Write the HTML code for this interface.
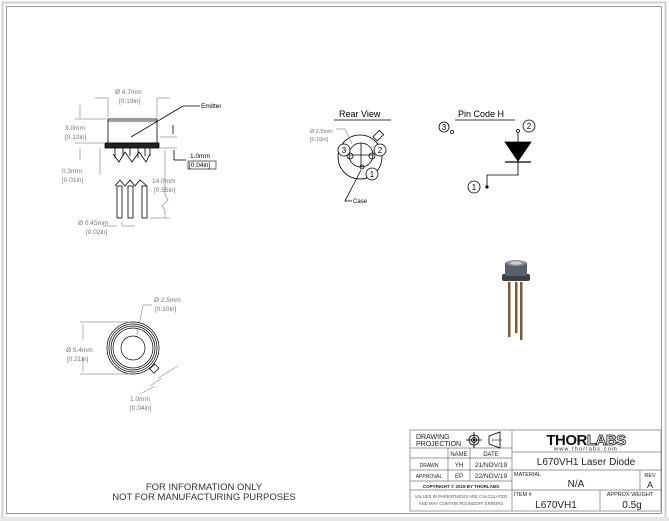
<!DOCTYPE html>
<html><head><meta charset="utf-8"><style>
html,body{margin:0;padding:0;background:#fff;}
svg{display:block;font-family:"Liberation Sans",sans-serif;}
</style></head><body>
<svg width="669" height="521" viewBox="0 0 669 521" xmlns="http://www.w3.org/2000/svg">
<rect x="0" y="0" width="669" height="521" fill="#fff"/>
<rect x="2.5" y="2.5" width="663" height="516" fill="none" stroke="#cfcfcf" stroke-width="2"/>
<rect x="6.5" y="6.5" width="655" height="507" fill="none" stroke="#9a9a9a" stroke-width="1"/>
<rect x="0" y="517" width="669" height="4" fill="#e6e6e6"/>

<g stroke="#000" fill="none" stroke-width="0.8">
<rect x="108" y="119" width="49" height="24"/>
<line x1="108" y1="121" x2="157" y2="121"/>
<rect x="105" y="143" width="54" height="5" fill="#222"/>
<line x1="108" y1="98" x2="108" y2="117" stroke="#999"/>
<line x1="157" y1="98" x2="157" y2="117" stroke="#999"/>
<line x1="95" y1="98" x2="108" y2="98" stroke="#999"/><line x1="157" y1="98" x2="170" y2="98" stroke="#999"/>
<line x1="75" y1="119" x2="106" y2="119" stroke="#999"/>
<line x1="75" y1="143" x2="104" y2="143" stroke="#999"/>
<line x1="80" y1="105" x2="80" y2="118" stroke="#999"/>
<line x1="80" y1="148" x2="80" y2="160" stroke="#999"/>
<line x1="100" y1="148" x2="100" y2="175" stroke="#999"/>
<line x1="131" y1="137" x2="183" y2="106"/><line x1="183" y1="106" x2="200" y2="106"/>
<line x1="160" y1="137" x2="177" y2="137" stroke="#999"/>
<line x1="173" y1="125" x2="173" y2="134"/>
<line x1="160" y1="148" x2="177" y2="148" stroke="#999"/>
<line x1="174" y1="150" x2="174" y2="160"/><line x1="174" y1="160" x2="186" y2="160"/>
<path d="M115 148 V158 M123 148 V156 M130 148 V156 M138 148 V158 M145 148 V156 M150 148 V156"/>
<path d="M113 154 L119 162 L125 152 L132 162 L139 152 L146 162 L150 154"/>
<path d="M115 186 L120 180 L125 186 L130 180 L135 186 L140 180 L147 186"/>
<rect x="117" y="186" width="5" height="32"/>
<rect x="128" y="186" width="5" height="32"/>
<rect x="142" y="186" width="5" height="32"/>
<line x1="150" y1="218" x2="170" y2="218" stroke="#999"/>
<line x1="165" y1="150" x2="165" y2="195" stroke="#999"/>
<path d="M165 195 L168 200 L162 206 L165 210 V218" stroke="#999"/>
<line x1="122" y1="226" x2="122" y2="222" stroke="#999"/>
<line x1="103" y1="226" x2="117" y2="226" stroke="#999"/><line x1="122" y1="226" x2="135" y2="226" stroke="#999"/>
</g>
<g font-size="6.5" fill="#777">
<text x="115" y="94">Ø 4.7mm</text><text x="119" y="103">[0.19in]</text>
<text x="65" y="130">3.0mm</text><text x="65" y="139">[0.12in]</text>
<text x="62" y="173">0.3mm</text><text x="62" y="182">[0.01in]</text>
<text x="152" y="183">14.0mm</text><text x="154" y="192">[0.55in]</text>
<text x="78" y="225">Ø 0.45mm</text><text x="86" y="234">[0.02in]</text>
</g>
<g font-size="6.5" fill="#000">
<text x="201" y="108">Emitter</text>
<text x="190" y="158">1.0mm</text><text x="189" y="167">[0.04in]</text>
</g>
<rect x="188" y="161" width="28" height="8" fill="none" stroke="#000" stroke-width="0.6"/>

<g stroke="#000" fill="none" stroke-width="0.7">
<circle cx="133" cy="348" r="26"/><circle cx="133" cy="348" r="24"/><circle cx="133" cy="348" r="22"/><circle cx="133" cy="348" r="20"/>
<circle cx="133" cy="348" r="12"/>
<rect x="151" y="366" width="7" height="6" transform="rotate(-45 154 369)"/>
<line x1="80" y1="322" x2="130" y2="322" stroke="#999"/><line x1="80" y1="374" x2="130" y2="374" stroke="#999"/>
<line x1="83" y1="324" x2="83" y2="340" stroke="#999"/><line x1="83" y1="357" x2="83" y2="372" stroke="#999"/>
<path d="M137 335 L143 305 H152" stroke="#999"/>
<line x1="158" y1="378" x2="178" y2="366" stroke="#999"/><line x1="150" y1="386" x2="162" y2="378" stroke="#999"/>
<line x1="140" y1="394" x2="155" y2="386" stroke="#999"/>
</g>
<g font-size="6.5" fill="#777">
<text x="154" y="302">Ø 2.5mm</text><text x="155" y="311">[0.10in]</text>
<text x="66" y="352">Ø 5.4mm</text><text x="67" y="361">[0.21in]</text>
<text x="130" y="401">1.0mm</text><text x="130" y="410">[0.04in]</text>
</g>

<g font-size="9" fill="#000"><text x="339" y="117">Rear View</text><text x="458" y="117">Pin Code H</text></g>
<line x1="334" y1="120" x2="391" y2="120" stroke="#000" stroke-width="0.8"/>
<line x1="455" y1="120" x2="515" y2="120" stroke="#000" stroke-width="0.8"/>
<g stroke="#000" fill="none" stroke-width="0.8">
<rect x="374" y="133" width="9" height="6" transform="rotate(-45 378 136)" fill="#fff"/>
<circle cx="360" cy="157" r="22" fill="#fff"/>
<circle cx="361" cy="155" r="12"/>
<line x1="361" y1="143" x2="361" y2="167"/><line x1="349" y1="155" x2="373" y2="155"/>
<circle cx="350" cy="156" r="3"/><circle cx="372" cy="156" r="3"/><circle cx="362" cy="167" r="2"/>
<circle cx="344" cy="150" r="6" fill="#fff"/><circle cx="380" cy="150" r="6" fill="#fff"/><circle cx="372" cy="174" r="6" fill="#fff"/>
<path d="M336 129 H345 L352 144" stroke="#999"/>
<path d="M361 170 L345 201 H352"/>
<circle cx="444" cy="127" r="5"/><circle cx="452" cy="132" r="1.5"/>
<circle cx="529" cy="126" r="6"/><circle cx="518" cy="131" r="1.5"/>
<line x1="518" y1="133" x2="518" y2="142"/>
<path d="M505 142 H531 L518 161 Z" fill="#000"/>
<line x1="505" y1="162" x2="531" y2="162" stroke-width="1.2"/>
<path d="M518 162 V175 H487 V186"/>
<circle cx="474" cy="187" r="6"/>
</g>
<circle cx="487" cy="187" r="1.6" fill="#000"/>
<g font-size="8" fill="#000" text-anchor="middle">
<text x="344" y="153">3</text><text x="380" y="153">2</text><text x="372" y="177">1</text>
<text x="444" y="130">3</text><text x="529" y="129">2</text><text x="474" y="190">1</text>
</g>
<g font-size="5.5" fill="#777"><text x="310" y="133">Ø 2.5mm</text><text x="310" y="141">[0.10in]</text></g>
<text x="353" y="203" font-size="6" fill="#000">Case</text>

<g>
<rect x="508" y="282" width="2.5" height="55" fill="#7a5a3a"/>
<rect x="515" y="282" width="2.5" height="51" fill="#7a5a3a"/>
<rect x="520" y="282" width="2.5" height="58" fill="#7a5a3a"/>
<rect x="502" y="274" width="28" height="7" rx="2" fill="#3a3f48"/>
<rect x="505" y="262" width="22" height="14" rx="2" fill="#5a606b"/>
<ellipse cx="516" cy="263" rx="10" ry="3" fill="#8a8f98"/>
<ellipse cx="516" cy="263" rx="6" ry="1.8" fill="#c9ccd0"/>
</g>

<g font-size="9.5" fill="#333" text-anchor="middle">
<text x="204" y="490">FOR INFORMATION ONLY</text>
<text x="204" y="500">NOT FOR MANUFACTURING PURPOSES</text>
</g>

<g stroke="#777" stroke-width="0.7" fill="none">
<rect x="410" y="430" width="251" height="81" fill="#fff"/>
<line x1="512" y1="430" x2="512" y2="511"/>
<line x1="410" y1="448" x2="512" y2="448"/>
<line x1="410" y1="458" x2="512" y2="458"/>
<line x1="410" y1="470" x2="512" y2="470"/>
<line x1="410" y1="481" x2="512" y2="481"/>
<line x1="410" y1="490" x2="512" y2="490"/>
<line x1="448" y1="448" x2="448" y2="481"/>
<line x1="470" y1="448" x2="470" y2="481"/>
<line x1="512" y1="452" x2="661" y2="452"/>
<line x1="512" y1="470" x2="661" y2="470"/>
<line x1="512" y1="490" x2="661" y2="490"/>
<line x1="640" y1="470" x2="640" y2="490"/>
<line x1="600" y1="490" x2="600" y2="511"/>
</g>
<g stroke="#000" fill="none" stroke-width="0.8">
<circle cx="474" cy="440" r="5"/><circle cx="474" cy="440" r="2.5"/>
<line x1="466" y1="440" x2="482" y2="440"/><line x1="474" y1="432" x2="474" y2="448"/>
<path d="M489 436 L500 432 V448 L489 444 Z"/><line x1="492" y1="440" x2="502" y2="440" stroke-dasharray="2,1"/>
</g>
<circle cx="474" cy="440" r="1.2" fill="#000"/>
<g font-family="Liberation Sans, sans-serif" fill="#222">
<text x="416" y="439" font-size="7">DRAWING</text>
<text x="416" y="446" font-size="7">PROJECTION</text>
<text x="459" y="456" font-size="6" text-anchor="middle">NAME</text>
<text x="491" y="456" font-size="6" text-anchor="middle">DATE</text>
<text x="429" y="467" font-size="5" text-anchor="middle">DRAWN</text>
<text x="459" y="467" font-size="6" text-anchor="middle">YH</text>
<text x="491" y="467" font-size="6.5" text-anchor="middle">21/NOV/19</text>
<text x="429" y="478" font-size="5" text-anchor="middle">APPROVAL</text>
<text x="459" y="478" font-size="6" text-anchor="middle">EP</text>
<text x="491" y="478" font-size="6.5" text-anchor="middle">22/NOV/19</text>
<text x="461" y="488" font-size="4.5" font-weight="bold" text-anchor="middle">COPYRIGHT © 2019 BY THORLABS</text>
<text x="461" y="498" font-size="4.3" text-anchor="middle" fill="#555">VALUES IN PARENTHESIS ARE CALCULATED</text>
<text x="461" y="505" font-size="4.3" text-anchor="middle" fill="#555">AND MAY CONTAIN ROUNDOFF ERRORS</text>
<text x="586" y="445" font-size="15" font-weight="bold" text-anchor="middle" fill="#111" letter-spacing="-0.5">THOR<tspan fill="#fff" stroke="#111" stroke-width="0.8">LABS</tspan></text>
<text x="586" y="450.5" font-size="5.5" text-anchor="middle" letter-spacing="1.2">www.thorlabs.com</text>
<text x="586" y="465" font-size="10" text-anchor="middle">L670VH1 Laser Diode</text>
<text x="514" y="476" font-size="5.5">MATERIAL</text>
<text x="576" y="487" font-size="10" text-anchor="middle">N/A</text>
<text x="650" y="477" font-size="5.5" text-anchor="middle">REV</text>
<text x="650" y="488" font-size="9" text-anchor="middle">A</text>
<text x="514" y="496" font-size="5.5">ITEM #</text>
<text x="556" y="508" font-size="10" text-anchor="middle">L670VH1</text>
<text x="630" y="496" font-size="5.5" text-anchor="middle">APPROX WEIGHT</text>
<text x="632" y="508" font-size="10" text-anchor="middle">0.5g</text>
</g>
</svg>
</body></html>
